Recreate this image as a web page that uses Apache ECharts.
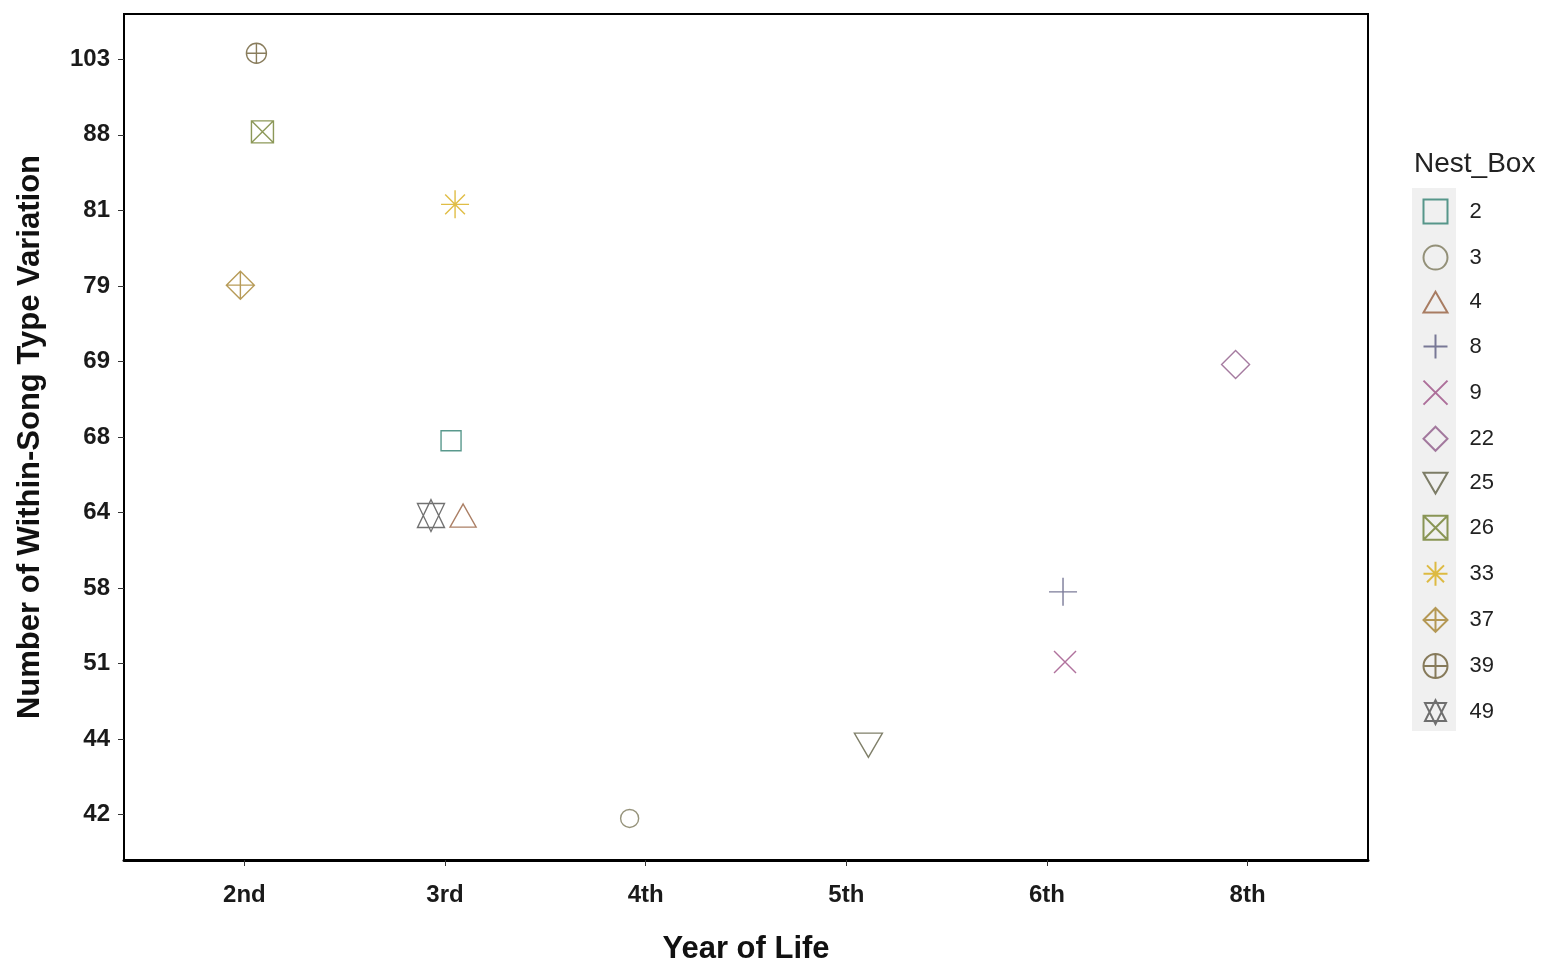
<!DOCTYPE html>
<html>
<head>
<meta charset="utf-8">
<script src="https://cdn.jsdelivr.net/npm/echarts@6/dist/echarts.min.js"></script>
<style>
  html, body { margin: 0; padding: 0; background: #ffffff; }
  #chart { width: 1543px; height: 965px; }
</style>
</head>
<body>
<div id="chart"></div>
<script>
// Year-of-life categories along x and the ordered song-variation levels along y
const years = ['2nd', '3rd', '4th', '5th', '6th', '8th'];
const variationLevels = [42, 44, 51, 58, 64, 68, 69, 79, 81, 88, 103];

// One bird per nest box
const nestBoxes = ['2', '3', '4', '8', '9', '22', '25', '26', '33', '37', '39', '49'];
const yearOfLife = ['3rd', '4th', '3rd', '6th', '6th', '8th', '5th', '2nd', '3rd', '2nd', '2nd', '3rd'];
const withinSongVariation = [68, 42, 64, 58, 51, 69, 44, 88, 81, 79, 103, 64];

// Jitter applied to each point (in category units)
const jitterX = [0.03, -0.08, 0.09, 0.08, 0.09, -0.06, 0.11, 0.09, 0.05, -0.02, 0.06, -0.07];
const jitterY = [-0.05, -0.05, -0.04, -0.05, 0.02, -0.04, -0.08, 0.04, 0.08, 0.01, 0.08, -0.04];

const colors = ['#2f7f70', '#7c785a', '#965f3e', '#5a5a80', '#9c4f84', '#8e5a88',
                '#5f5f44', '#6f7e2e', '#d8ac16', '#a5822e', '#6c5c34', '#4e4e4e'];

// Open plotting symbols, one per nest box
const shapes = [
  'path://M0,0L20,0L20,20L0,20Z',
  'path://M0,10A10,10 0 1,1 20,10A10,10 0 1,1 0,10Z',
  'path://M10,0L20,17.3L0,17.3Z',
  'path://M10,0L10,20M0,10L20,10',
  'path://M0,0L20,20M20,0L0,20',
  'path://M10,0L20,10L10,20L0,10Z',
  'path://M0,0L20,0L10,17.3Z',
  'path://M0,0L20,0L20,20L0,20ZM0,0L20,20M20,0L0,20',
  'path://M10,0L10,20M0,10L20,10M2.93,2.93L17.07,17.07M17.07,2.93L2.93,17.07',
  'path://M10,0L20,10L10,20L0,10ZM10,0L10,20M0,10L20,10',
  'path://M0,10A10,10 0 1,1 20,10A10,10 0 1,1 0,10ZM10,0L10,20M0,10L20,10',
  'path://M14,0L28,28L0,28ZM0,4L28,4L14,32Z'
];
const sizes = [[20, 20], [18, 18], [26, 23], [28, 28], [22, 22], [28, 28],
               [28, 24], [22, 22], [28, 28], [28, 28], [20, 20], [27, 32]];

const xTicks = years.map((_, i) => i + 1);
const yTicks = variationLevels.map((_, i) => i + 1);

const series = nestBoxes.map((nb, i) => ({
  name: nb,
  type: 'scatter',
  symbol: shapes[i],
  symbolSize: sizes[i],
  symbolKeepAspect: false,
  itemStyle: { color: 'none', borderColor: colors[i], borderWidth: 1.4 },
  emphasis: { disabled: true },
  data: [[
    years.indexOf(yearOfLife[i]) + 1 + jitterX[i],
    variationLevels.indexOf(withinSongVariation[i]) + 1 + jitterY[i]
  ]]
}));

const tickFont = { fontFamily: 'Liberation Sans', fontWeight: 'bold', fontSize: 24, color: '#1a1a1a' };
const titleFont = { fontFamily: 'Liberation Sans', fontWeight: 'bold', fontSize: 31, color: '#111' };

const chart = echarts.init(document.getElementById('chart'), null, { renderer: 'canvas' });
chart.setOption({
  animation: false,
  backgroundColor: '#ffffff',
  title: {
    text: 'Nest_Box',
    left: 1409,
    top: 145,
    textStyle: { fontFamily: 'Liberation Sans', fontWeight: 'normal', fontSize: 28, color: '#222' }
  },
  grid: {
    left: 124, right: 175, top: 14, bottom: 105,
    outerBoundsMode: 'none',
    containLabel: false,
    show: true, borderColor: '#000', borderWidth: 2, backgroundColor: '#fff'
  },
  graphic: [{
    type: 'rect', z: 1,
    shape: { x: 1412, y: 188, width: 44, height: 543 },
    style: { fill: '#f0f0f0' }
  }],
  legend: {
    orient: 'vertical',
    left: 1416,
    top: 192,
    itemWidth: 24,
    itemHeight: 24,
    itemGap: 17.1,
    z: 5,
    data: nestBoxes,
    textStyle: { fontFamily: 'Liberation Sans', fontSize: 22, lineHeight: 24, color: '#222', padding: [0, 0, 0, 17] }
  },
  xAxis: {
    type: 'value',
    min: 0.4, max: 6.6,
    splitLine: { show: false },
    axisLine: { show: true, onZero: false, lineStyle: { color: '#000', width: 3 } },
    axisTick: { show: true, customValues: xTicks, length: 6, lineStyle: { color: '#333' } },
    axisLabel: { customValues: xTicks, margin: 23, formatter: v => years[Math.round(v) - 1], ...tickFont },
    name: 'Year of Life',
    nameLocation: 'middle',
    nameGap: 74,
    nameTextStyle: titleFont
  },
  yAxis: {
    type: 'value',
    min: 0.4, max: 11.6,
    splitLine: { show: false },
    axisLine: { show: true, onZero: false, lineStyle: { color: '#000', width: 2 } },
    axisTick: { show: true, customValues: yTicks, length: 6, lineStyle: { color: '#333' } },
    axisLabel: { customValues: yTicks, margin: 14, formatter: v => String(variationLevels[Math.round(v) - 1]), ...tickFont },
    name: 'Number of Within-Song Type Variation',
    nameLocation: 'middle',
    nameRotate: 90,
    nameGap: 78,
    nameTextStyle: titleFont
  },
  series: series
});
</script>
</body>
</html>
